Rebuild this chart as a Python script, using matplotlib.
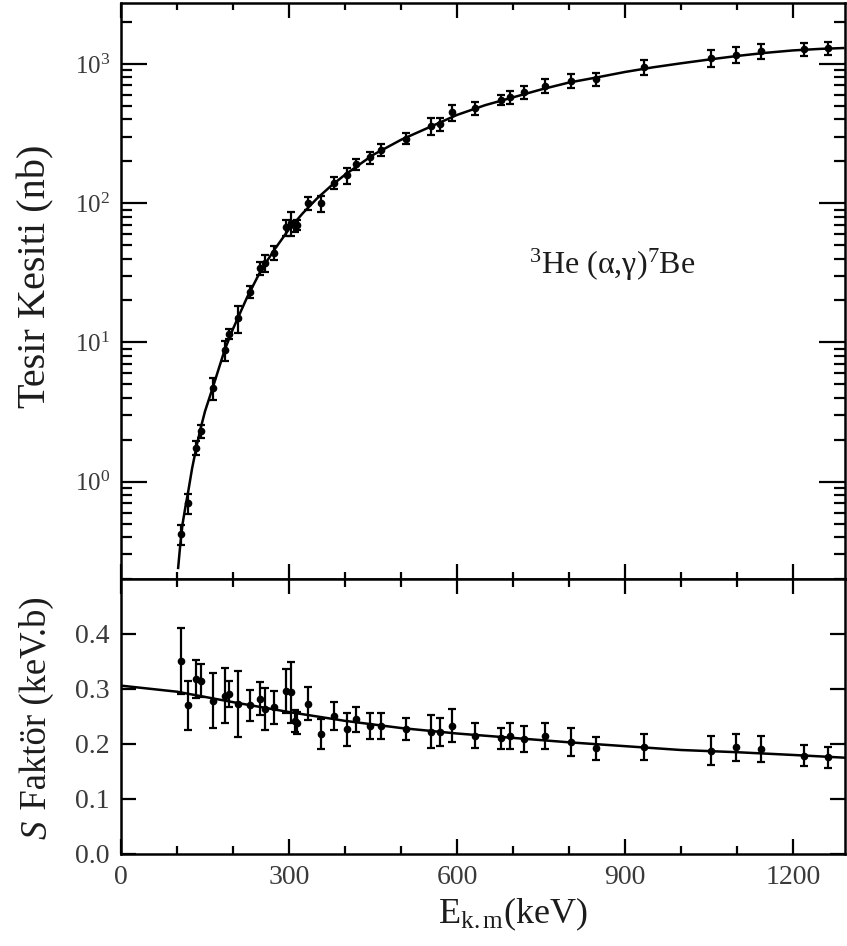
import matplotlib
matplotlib.use('Agg')
import matplotlib.pyplot as plt
from matplotlib.ticker import FixedLocator, MultipleLocator, LogLocator, NullFormatter

# ---------------- data ----------------
energy = [107, 120, 134, 142, 165, 186, 193, 209, 230, 249, 258, 273, 295, 303,
          311, 315, 334, 358, 380, 403, 419, 444, 464, 509, 553, 569, 592, 633,
          678, 694, 720, 758, 804, 849, 934, 1054, 1098, 1143, 1220, 1262]

cross_section = [0.42, 0.70, 1.75, 2.3, 4.7, 8.8, 11.5, 15, 23, 34, 37, 44, 67, 72,
                 68, 70, 100, 100, 140, 158, 190, 213, 242, 291, 359, 369, 449, 479,
                 553, 575, 625, 698, 758, 775, 946, 1100, 1161, 1240, 1283, 1298]

cross_err_frac = [0.17, 0.17, 0.11, 0.10, 0.18, 0.17, 0.08, 0.22, 0.10, 0.11, 0.14,
                  0.11, 0.13, 0.19, 0.08, 0.08, 0.11, 0.13, 0.10, 0.13, 0.09, 0.10,
                  0.10, 0.09, 0.14, 0.11, 0.13, 0.11, 0.09, 0.11, 0.11, 0.11, 0.12,
                  0.11, 0.12, 0.14, 0.13, 0.12, 0.11, 0.11]

s_factor = [0.351, 0.270, 0.318, 0.315, 0.279, 0.288, 0.291, 0.273, 0.270, 0.282,
            0.264, 0.267, 0.297, 0.294, 0.242, 0.239, 0.273, 0.218, 0.251, 0.227,
            0.245, 0.233, 0.233, 0.227, 0.222, 0.222, 0.233, 0.215, 0.210, 0.215,
            0.209, 0.215, 0.204, 0.192, 0.194, 0.188, 0.194, 0.191, 0.179, 0.176]

s_err = [0.060, 0.045, 0.035, 0.030, 0.050, 0.050, 0.023, 0.060, 0.028, 0.030,
         0.038, 0.030, 0.040, 0.055, 0.020, 0.020, 0.030, 0.028, 0.025, 0.030,
         0.023, 0.024, 0.024, 0.020, 0.030, 0.025, 0.030, 0.023, 0.019, 0.024,
         0.024, 0.024, 0.025, 0.021, 0.024, 0.026, 0.025, 0.023, 0.019, 0.019]

fit_energy_cs = [102, 106, 110, 115, 120, 127, 135, 142, 150, 165, 185, 200, 225,
                 250, 275, 300, 325, 350, 375, 400, 450, 500, 550, 600, 650, 700,
                 750, 800, 850, 900, 950, 1000, 1050, 1100, 1150, 1200, 1250, 1290]
fit_cs = [0.24, 0.36, 0.50, 0.66, 0.85, 1.25, 1.80, 2.40, 3.20, 4.90, 8.8, 12.5,
          21, 33, 47, 65, 85, 108, 133, 160, 222, 285, 350, 430, 505, 575, 655,
          735, 800, 875, 945, 1010, 1075, 1140, 1200, 1250, 1283, 1300]

fit_energy_s = [0, 100, 200, 300, 400, 500, 600, 700, 800, 900, 1000, 1100, 1200, 1293]
fit_s = [0.306, 0.295, 0.276, 0.258, 0.242, 0.229, 0.219, 0.211, 0.203, 0.196,
         0.189, 0.185, 0.180, 0.175]

x_ticks = [0, 300, 600, 900, 1200]
x_tick_labels = ['0', '300', '600', '900', '1200']
cs_ticks = [1, 10, 100, 1000]
cs_tick_labels = [r'$10^{0}$', r'$10^{1}$', r'$10^{2}$', r'$10^{3}$']
s_ticks = [0.0, 0.1, 0.2, 0.3, 0.4]
s_tick_labels = ['0.0', '0.1', '0.2', '0.3', '0.4']

# ---------------- style ----------------
plt.rcParams['font.family'] = ['Liberation Serif', 'DejaVu Serif']
plt.rcParams['mathtext.fontset'] = 'custom'
plt.rcParams['mathtext.rm'] = 'Liberation Serif'
plt.rcParams['mathtext.it'] = 'Liberation Serif:style=italic'
plt.rcParams['mathtext.bf'] = 'Liberation Serif:weight=bold'

txt_col = '#1c1c1c'
tick_col = '#3a3a3a'

fig = plt.figure(figsize=(8.47, 9.46), dpi=100)
ax1 = fig.add_axes([0.1429, 0.388, 0.8547, 0.6091])
ax2 = fig.add_axes([0.1429, 0.0973, 0.8547, 0.2907])

xmin, xmax = 0, 1293

# ---- top panel ----
ax1.plot(fit_energy_cs, fit_cs, color='black', lw=1.8, zorder=2)
cs_yerr = [c * f for c, f in zip(cross_section, cross_err_frac)]
ax1.errorbar(energy, cross_section, yerr=cs_yerr, fmt='o', color='black',
             ms=4.5, elinewidth=1.6, capsize=3.2, capthick=1.6, zorder=3)
ax1.set_yscale('log')
ax1.set_xlim(xmin, xmax)
ax1.set_ylim(0.2, 2750)
ax1.yaxis.set_major_locator(FixedLocator(cs_ticks))
ax1.set_yticklabels(cs_tick_labels)
ax1.yaxis.set_minor_locator(LogLocator(base=10, subs=[2, 3, 4, 5, 6, 7, 8, 9], numticks=20))
ax1.yaxis.set_minor_formatter(NullFormatter())
ax1.xaxis.set_major_locator(FixedLocator(x_ticks))
ax1.xaxis.set_minor_locator(MultipleLocator(100))
ax1.tick_params(axis='x', which='both', labelbottom=False)
ax1.tick_params(axis='both', which='both', direction='in', top=True, right=True,
                width=1.6, colors='black', labelcolor=tick_col)
ax1.tick_params(axis='y', which='major', length=19, labelsize=18, pad=8)
ax1.tick_params(axis='y', which='minor', length=8)
ax1.tick_params(axis='x', which='major', length=11)
ax1.tick_params(axis='x', which='minor', length=5)
ax1.set_ylabel('Tesir Kesiti (nb)', fontsize=29, color=txt_col)
ax1.yaxis.set_label_coords(-0.092, 0.525)
ax1.text(878, 36, r'$^{3}$He (α,γ)$^{7}$Be', fontsize=23,
         color=txt_col, ha='center', va='center')

# ---- bottom panel ----
ax2.plot(fit_energy_s, fit_s, color='black', lw=1.8, zorder=2)
ax2.errorbar(energy, s_factor, yerr=s_err, fmt='o', color='black',
             ms=4.5, elinewidth=1.6, capsize=3.2, capthick=1.6, zorder=3)
ax2.set_xlim(xmin, xmax)
ax2.set_ylim(0, 0.5)
ax2.set_xticks(x_ticks)
ax2.set_xticklabels(x_tick_labels)
ax2.xaxis.set_minor_locator(MultipleLocator(100))
ax2.set_yticks(s_ticks)
ax2.set_yticklabels(s_tick_labels)
ax2.tick_params(axis='both', which='both', direction='in', top=True, right=True,
                width=1.6, colors='black', labelcolor=tick_col)
ax2.tick_params(axis='y', which='major', length=11, labelsize=20, pad=8)
ax2.tick_params(axis='x', which='major', length=11, labelsize=20, pad=8)
ax2.tick_params(axis='x', which='minor', length=6)
ax2.set_xlabel(r'E$_{\mathrm{k.m}}$(keV)', fontsize=26, color=txt_col)
ax2.xaxis.set_label_coords(0.541, -0.15)

# y label of bottom panel: italic "S" followed by upright text
lab_x = -0.092
lab_kw = dict(transform=ax2.transAxes, rotation=90, rotation_mode='anchor',
              ha='left', va='bottom', fontsize=26.5, color=txt_col, clip_on=False)
s_part = ax2.text(lab_x, 0.0, 'S', fontstyle='italic', **lab_kw)
rest_part = ax2.text(lab_x, 0.0, '\u2009Faktör (keV.b)', **lab_kw)

for ax in (ax1, ax2):
    for sp in ax.spines.values():
        sp.set_linewidth(1.8)

fig.canvas.draw()
renderer = fig.canvas.get_renderer()
h_s = s_part.get_window_extent(renderer).height
h_r = rest_part.get_window_extent(renderer).height
ax_h = ax2.get_window_extent(renderer).height
total = (h_s + h_r) / ax_h
y0 = 0.49 - total / 2
s_part.set_position((lab_x, y0))
rest_part.set_position((lab_x, y0 + h_s / ax_h + 0.012))

fig.savefig('out.png', dpi=100)
